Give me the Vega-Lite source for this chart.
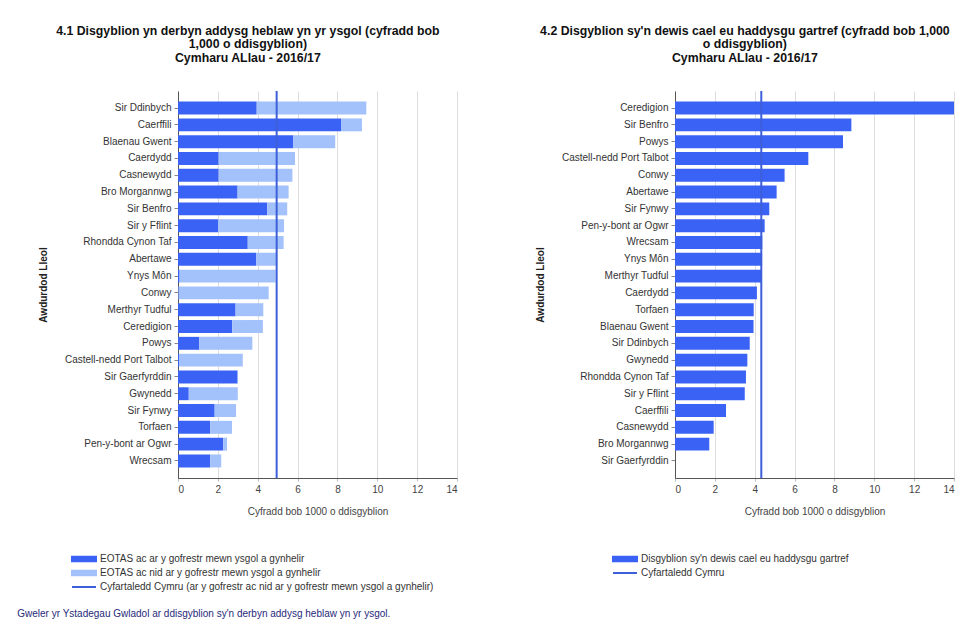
{
  "$schema": "https://vega.github.io/schema/vega-lite/v6.json",
  "background": "white",
  "padding": {"left": 17, "top": 24, "right": 5, "bottom": 5},
  "spacing": 77,
  "config": {
    "font": "Liberation Sans",
    "view": {"stroke": null},
    "title": {"fontSize": 12.3, "fontWeight": "bold", "color": "#111111", "lineHeight": 13.5},
    "axisY": {"labelFontSize": 10, "labelColor": "#333333", "labelPadding": 3, "tickSize": 4, "tickColor": "#888888", "domainColor": "#555555", "titleFontSize": 10, "titleFontWeight": "bold", "titleColor": "#222222", "titlePadding": 16, "grid": false},
    "axisX": {"labelFontSize": 10, "labelColor": "#444444", "labelPadding": 3, "tickSize": 3, "tickColor": "#bbbbbb", "domainColor": "#555555", "gridColor": "#dddddd", "grid": true, "titleFontSize": 10, "titleFontWeight": "normal", "titleColor": "#444444", "titlePadding": 12, "values": [0, 2, 4, 6, 8, 10, 12, 14], "labelOverlap": false}
  },
  "datasets": {
    "left": [
      {"area": "Sir Ddinbych", "series": "EOTAS ac ar y gofrestr mewn ysgol a gynhelir", "value": 3.95},
      {"area": "Sir Ddinbych", "series": "EOTAS ac nid ar y gofrestr mewn ysgol a gynhelir", "value": 5.50},
      {"area": "Caerffili", "series": "EOTAS ac ar y gofrestr mewn ysgol a gynhelir", "value": 8.18},
      {"area": "Caerffili", "series": "EOTAS ac nid ar y gofrestr mewn ysgol a gynhelir", "value": 1.05},
      {"area": "Blaenau Gwent", "series": "EOTAS ac ar y gofrestr mewn ysgol a gynhelir", "value": 5.79},
      {"area": "Blaenau Gwent", "series": "EOTAS ac nid ar y gofrestr mewn ysgol a gynhelir", "value": 2.10},
      {"area": "Caerdydd", "series": "EOTAS ac ar y gofrestr mewn ysgol a gynhelir", "value": 2.04},
      {"area": "Caerdydd", "series": "EOTAS ac nid ar y gofrestr mewn ysgol a gynhelir", "value": 3.83},
      {"area": "Casnewydd", "series": "EOTAS ac ar y gofrestr mewn ysgol a gynhelir", "value": 2.04},
      {"area": "Casnewydd", "series": "EOTAS ac nid ar y gofrestr mewn ysgol a gynhelir", "value": 3.70},
      {"area": "Bro Morgannwg", "series": "EOTAS ac ar y gofrestr mewn ysgol a gynhelir", "value": 2.99},
      {"area": "Bro Morgannwg", "series": "EOTAS ac nid ar y gofrestr mewn ysgol a gynhelir", "value": 2.56},
      {"area": "Sir Benfro", "series": "EOTAS ac ar y gofrestr mewn ysgol a gynhelir", "value": 4.48},
      {"area": "Sir Benfro", "series": "EOTAS ac nid ar y gofrestr mewn ysgol a gynhelir", "value": 1.00},
      {"area": "Sir y Fflint", "series": "EOTAS ac ar y gofrestr mewn ysgol a gynhelir", "value": 2.02},
      {"area": "Sir y Fflint", "series": "EOTAS ac nid ar y gofrestr mewn ysgol a gynhelir", "value": 3.30},
      {"area": "Rhondda Cynon Taf", "series": "EOTAS ac ar y gofrestr mewn ysgol a gynhelir", "value": 3.50},
      {"area": "Rhondda Cynon Taf", "series": "EOTAS ac nid ar y gofrestr mewn ysgol a gynhelir", "value": 1.80},
      {"area": "Abertawe", "series": "EOTAS ac ar y gofrestr mewn ysgol a gynhelir", "value": 3.93},
      {"area": "Abertawe", "series": "EOTAS ac nid ar y gofrestr mewn ysgol a gynhelir", "value": 1.05},
      {"area": "Ynys Môn", "series": "EOTAS ac ar y gofrestr mewn ysgol a gynhelir", "value": 0.08},
      {"area": "Ynys Môn", "series": "EOTAS ac nid ar y gofrestr mewn ysgol a gynhelir", "value": 4.82},
      {"area": "Conwy", "series": "EOTAS ac ar y gofrestr mewn ysgol a gynhelir", "value": 0.03},
      {"area": "Conwy", "series": "EOTAS ac nid ar y gofrestr mewn ysgol a gynhelir", "value": 4.52},
      {"area": "Merthyr Tudful", "series": "EOTAS ac ar y gofrestr mewn ysgol a gynhelir", "value": 2.89},
      {"area": "Merthyr Tudful", "series": "EOTAS ac nid ar y gofrestr mewn ysgol a gynhelir", "value": 1.39},
      {"area": "Ceredigion", "series": "EOTAS ac ar y gofrestr mewn ysgol a gynhelir", "value": 2.72},
      {"area": "Ceredigion", "series": "EOTAS ac nid ar y gofrestr mewn ysgol a gynhelir", "value": 1.54},
      {"area": "Powys", "series": "EOTAS ac ar y gofrestr mewn ysgol a gynhelir", "value": 1.07},
      {"area": "Powys", "series": "EOTAS ac nid ar y gofrestr mewn ysgol a gynhelir", "value": 2.66},
      {"area": "Castell-nedd Port Talbot", "series": "EOTAS ac ar y gofrestr mewn ysgol a gynhelir", "value": 0.05},
      {"area": "Castell-nedd Port Talbot", "series": "EOTAS ac nid ar y gofrestr mewn ysgol a gynhelir", "value": 3.20},
      {"area": "Sir Gaerfyrddin", "series": "EOTAS ac ar y gofrestr mewn ysgol a gynhelir", "value": 2.99},
      {"area": "Sir Gaerfyrddin", "series": "EOTAS ac nid ar y gofrestr mewn ysgol a gynhelir", "value": 0.02},
      {"area": "Gwynedd", "series": "EOTAS ac ar y gofrestr mewn ysgol a gynhelir", "value": 0.54},
      {"area": "Gwynedd", "series": "EOTAS ac nid ar y gofrestr mewn ysgol a gynhelir", "value": 2.46},
      {"area": "Sir Fynwy", "series": "EOTAS ac ar y gofrestr mewn ysgol a gynhelir", "value": 1.84},
      {"area": "Sir Fynwy", "series": "EOTAS ac nid ar y gofrestr mewn ysgol a gynhelir", "value": 1.07},
      {"area": "Torfaen", "series": "EOTAS ac ar y gofrestr mewn ysgol a gynhelir", "value": 1.61},
      {"area": "Torfaen", "series": "EOTAS ac nid ar y gofrestr mewn ysgol a gynhelir", "value": 1.10},
      {"area": "Pen-y-bont ar Ogwr", "series": "EOTAS ac ar y gofrestr mewn ysgol a gynhelir", "value": 2.27},
      {"area": "Pen-y-bont ar Ogwr", "series": "EOTAS ac nid ar y gofrestr mewn ysgol a gynhelir", "value": 0.19},
      {"area": "Wrecsam", "series": "EOTAS ac ar y gofrestr mewn ysgol a gynhelir", "value": 1.62},
      {"area": "Wrecsam", "series": "EOTAS ac nid ar y gofrestr mewn ysgol a gynhelir", "value": 0.55}
    ],
    "right": [
      {"area": "Ceredigion", "value": 14.0},
      {"area": "Sir Benfro", "value": 8.85},
      {"area": "Powys", "value": 8.43},
      {"area": "Castell-nedd Port Talbot", "value": 6.69},
      {"area": "Conwy", "value": 5.50},
      {"area": "Abertawe", "value": 5.10},
      {"area": "Sir Fynwy", "value": 4.73},
      {"area": "Pen-y-bont ar Ogwr", "value": 4.50},
      {"area": "Wrecsam", "value": 4.38},
      {"area": "Ynys Môn", "value": 4.37},
      {"area": "Merthyr Tudful", "value": 4.36},
      {"area": "Caerdydd", "value": 4.11},
      {"area": "Torfaen", "value": 3.95},
      {"area": "Blaenau Gwent", "value": 3.94},
      {"area": "Sir Ddinbych", "value": 3.75},
      {"area": "Gwynedd", "value": 3.63},
      {"area": "Rhondda Cynon Taf", "value": 3.56},
      {"area": "Sir y Fflint", "value": 3.50},
      {"area": "Caerffili", "value": 2.56},
      {"area": "Casnewydd", "value": 1.94},
      {"area": "Bro Morgannwg", "value": 1.72},
      {"area": "Sir Gaerfyrddin", "value": 0}
    ]
  },
  "resolve": {"scale": {"x": "independent", "y": "independent", "color": "independent"}, "legend": {"color": "independent"}},
  "hconcat": [
    {
      "title": {"text": "Gweler yr Ystadegau Gwladol ar ddisgyblion sy'n derbyn addysg heblaw yn yr ysgol.", "orient": "bottom", "anchor": "start", "fontSize": 10, "fontWeight": "normal", "color": "#1f2a7a", "offset": 17, "dx": -21},
      "vconcat": [
        {
          "title": {"text": ["4.1  Disgyblion yn derbyn addysg heblaw yn yr ysgol (cyfradd bob", "1,000 o ddisgyblion)", "Cymharu ALlau - 2016/17"], "frame": "bounds", "anchor": "middle", "offset": 26},
          "width": 279,
          "height": 387,
          "layer": [
            {
              "data": {"name": "left"},
              "mark": {"type": "bar"},
              "encoding": {
                "y": {"field": "area", "type": "nominal", "sort": null, "title": "Awdurdod Lleol", "scale": {"paddingInner": 0.23, "paddingOuter": 0.63}},
                "x": {"field": "value", "type": "quantitative", "stack": "zero", "title": "Cyfradd bob 1000 o ddisgyblion", "scale": {"domain": [0, 14], "nice": false}, "axis": {"values": [0, 2, 4, 6, 8, 10, 12, 14]}},
                "color": {
                  "field": "series", "type": "nominal", "title": null,
                  "scale": {"domain": ["EOTAS ac ar y gofrestr mewn ysgol a gynhelir", "EOTAS ac nid ar y gofrestr mewn ysgol a gynhelir", "Cyfartaledd Cymru (ar y gofrestr ac nid ar y gofrestr mewn ysgol a gynhelir)"], "range": ["#3a62f5", "#a3c1fa", "#3d5fd9"]},
                  "legend": {
                    "orient": "none", "legendX": -101, "legendY": 461, "title": null, "padding": 0,
                    "symbolSize": 144, "labelFontSize": 10, "labelColor": "#333333", "labelOffset": 9, "labelLimit": 600, "rowPadding": -1,
                    "encode": {"symbols": {"update": {
                      "shape": {"signal": "indexof(datum.value, 'Cyfartaledd') === 0 ? 'M-2,0H2' : 'M-2,-0.36H2V0.36H-2Z'"},
                      "stroke": {"signal": "indexof(datum.value, 'Cyfartaledd') === 0 ? '#6f86d6' : 'transparent'"},
                      "strokeWidth": {"value": 2}
                    }}}
                  }
                }
              }
            },
            {
              "data": {"values": [{"avg": 4.95, "label": "Cyfartaledd Cymru (ar y gofrestr ac nid ar y gofrestr mewn ysgol a gynhelir)"}]},
              "mark": {"type": "rule", "strokeWidth": 2},
              "encoding": {
                "x": {"field": "avg", "type": "quantitative", "axis": {"values": [0, 2, 4, 6, 8, 10, 12, 14]}},
                "color": {"field": "label", "type": "nominal", "title": null}
              }
            }
          ]
        }
      ]
    },
    {
      "title": {"text": ["4.2  Disgyblion sy'n dewis cael eu haddysgu gartref (cyfradd bob 1,000", "o ddisgyblion)", "Cymharu ALlau - 2016/17"], "frame": "bounds", "anchor": "middle", "offset": 26},
      "width": 279,
      "height": 387,
      "layer": [
        {
          "data": {"name": "right"},
          "mark": {"type": "bar"},
          "encoding": {
            "y": {"field": "area", "type": "nominal", "sort": null, "title": "Awdurdod Lleol", "scale": {"paddingInner": 0.23, "paddingOuter": 0.63}},
            "x": {"field": "value", "type": "quantitative", "title": "Cyfradd bob 1000 o ddisgyblion", "scale": {"domain": [0, 14], "nice": false}, "axis": {"values": [0, 2, 4, 6, 8, 10, 12, 14]}},
            "color": {
              "datum": "Disgyblion sy'n dewis cael eu haddysgu gartref",
              "type": "nominal", "title": null,
              "scale": {"domain": ["Disgyblion sy'n dewis cael eu haddysgu gartref", "Cyfartaledd Cymru"], "range": ["#3a62f5", "#3d5fd9"]},
              "legend": {
                "orient": "none", "legendX": -57, "legendY": 461, "title": null, "padding": 0,
                "symbolSize": 144, "labelFontSize": 10, "labelColor": "#333333", "labelOffset": 9, "labelLimit": 600, "rowPadding": -1,
                "encode": {"symbols": {"update": {
                  "shape": {"signal": "indexof(datum.value, 'Cyfartaledd') === 0 ? 'M-2,0H2' : 'M-2,-0.36H2V0.36H-2Z'"},
                  "stroke": {"signal": "indexof(datum.value, 'Cyfartaledd') === 0 ? '#6f86d6' : 'transparent'"},
                  "strokeWidth": {"value": 2}
                }}}
              }
            }
          }
        },
        {
          "data": {"values": [{"avg": 4.33, "label": "Cyfartaledd Cymru"}]},
          "mark": {"type": "rule", "strokeWidth": 2},
          "encoding": {
            "x": {"field": "avg", "type": "quantitative", "axis": {"values": [0, 2, 4, 6, 8, 10, 12, 14]}},
            "color": {"field": "label", "type": "nominal", "title": null}
          }
        }
      ]
    }
  ]
}
